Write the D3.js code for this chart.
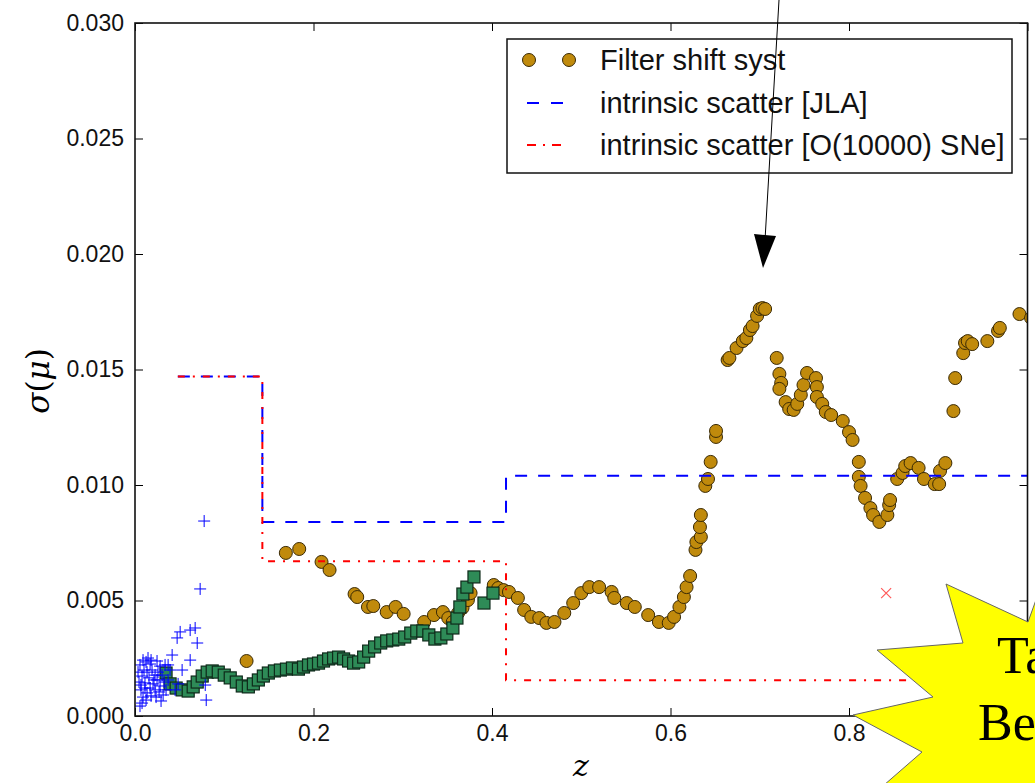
<!DOCTYPE html>
<html><head><meta charset="utf-8">
<script src="https://cdn.jsdelivr.net/npm/d3@7"></script>
<style>body{margin:0;background:#fff} svg{display:block}</style>
</head><body><svg id="c" width="1035" height="783"></svg>
<script>
// ---------------- data ----------------
const goldZ=[0.125,0.169,0.184,0.209,0.218,0.246,0.249,0.261,0.267,0.282,0.292,0.301,0.324,0.335,0.345,0.351,0.356,0.362,0.367,0.373,0.376,0.402,0.407,0.413,0.419,0.429,0.436,0.444,0.453,0.461,0.470,0.481,0.491,0.500,0.509,0.520,0.534,0.537,0.551,0.560,0.575,0.587,0.598,0.604,0.610,0.615,0.618,0.622,0.628,0.629,0.634,0.633,0.634,0.639,0.642,0.645,0.651,0.651,0.664,0.666,0.674,0.681,0.685,0.689,0.692,0.697,0.700,0.703,0.706,0.719,0.722,0.724,0.722,0.729,0.733,0.738,0.742,0.746,0.749,0.753,0.763,0.764,0.764,0.770,0.774,0.780,0.793,0.800,0.804,0.811,0.811,0.813,0.818,0.824,0.827,0.834,0.843,0.845,0.846,0.854,0.860,0.863,0.869,0.878,0.884,0.896,0.901,0.902,0.908,0.917,0.919,0.928,0.930,0.933,0.938,0.955,0.967,0.969,0.991,1.004];
const goldS=[0.00238,0.00706,0.00723,0.00667,0.00632,0.00528,0.00515,0.00472,0.00476,0.00450,0.00472,0.00442,0.00407,0.00437,0.00450,0.00424,0.00407,0.00446,0.00468,0.00502,0.00532,0.00567,0.00554,0.00545,0.00537,0.00511,0.00459,0.00429,0.00424,0.00403,0.00407,0.00446,0.00489,0.00532,0.00558,0.00558,0.00537,0.00511,0.00489,0.00472,0.00437,0.00407,0.00403,0.00429,0.00472,0.00515,0.00558,0.00606,0.00719,0.00753,0.00775,0.00818,0.00870,0.00996,0.01026,0.01100,0.01208,0.01234,0.01541,0.01550,0.01593,0.01623,0.01636,0.01671,0.01688,0.01732,0.01762,0.01766,0.01762,0.01550,0.01481,0.01442,0.01416,0.01359,0.01329,0.01325,0.01351,0.01390,0.01433,0.01485,0.01463,0.01424,0.01381,0.01351,0.01316,0.01303,0.01277,0.01229,0.01195,0.01100,0.01035,0.00996,0.00944,0.00900,0.00870,0.00840,0.00870,0.00913,0.00935,0.01026,0.01052,0.01082,0.01095,0.01074,0.01026,0.01004,0.01004,0.01061,0.01095,0.01320,0.01463,0.01571,0.01615,0.01623,0.01610,0.01623,0.01667,0.01680,0.01740,0.01723];

const greenZ=[0.0348,0.0393,0.0461,0.0528,0.0596,0.0652,0.0697,0.0753,0.0809,0.0865,0.0933,0.1000,0.1067,0.1135,0.1202,0.1270,0.1326,0.1382,0.1438,0.1494,0.1562,0.1629,0.1697,0.1764,0.1831,0.1888,0.1944,0.2000,0.2056,0.2112,0.2169,0.2225,0.2281,0.2337,0.2393,0.2449,0.2506,0.2562,0.2618,0.2685,0.2753,0.2820,0.2888,0.2955,0.3022,0.3090,0.3157,0.3225,0.3292,0.3360,0.3427,0.3494,0.3562,0.3607,0.3640,0.3674,0.3719,0.3798,0.3910,0.4011];
const greenS=[0.00186,0.00139,0.00121,0.00113,0.00108,0.00126,0.00147,0.00173,0.00190,0.00195,0.00190,0.00177,0.00165,0.00147,0.00130,0.00126,0.00139,0.00156,0.00173,0.00186,0.00195,0.00199,0.00203,0.00208,0.00203,0.00212,0.00221,0.00225,0.00229,0.00238,0.00247,0.00251,0.00255,0.00247,0.00238,0.00229,0.00234,0.00255,0.00281,0.00299,0.00316,0.00325,0.00329,0.00333,0.00342,0.00359,0.00368,0.00368,0.00351,0.00333,0.00338,0.00355,0.00381,0.00424,0.00472,0.00528,0.00558,0.00602,0.00489,0.00532];

const crossZ=[0.0056,0.0079,0.0090,0.0067,0.0112,0.0135,0.0045,0.0079,0.0101,0.0124,0.0146,0.0169,0.0191,0.0157,0.0202,0.0225,0.0180,0.0247,0.0258,0.0281,0.0303,0.0281,0.0326,0.0348,0.0315,0.0112,0.0135,0.0180,0.0225,0.0247,0.0056,0.0090,0.0034,0.0067,0.0169,0.0213,0.0236,0.0270,0.0292,0.0124,0.0371,0.0393,0.0337,0.0416,0.0371,0.0449,0.0483,0.0472,0.0506,0.0618,0.0674,0.0697,0.0618,0.0528,0.0787,0.0798,0.0775,0.0730];
const crossS=[0.00043,0.00056,0.00082,0.00113,0.00121,0.00100,0.00147,0.00173,0.00199,0.00234,0.00251,0.00225,0.00199,0.00165,0.00139,0.00113,0.00087,0.00156,0.00190,0.00216,0.00177,0.00130,0.00147,0.00113,0.00091,0.00143,0.00190,0.00242,0.00177,0.00238,0.00221,0.00242,0.00190,0.00134,0.00121,0.00156,0.00082,0.00104,0.00065,0.00069,0.00156,0.00199,0.00221,0.00264,0.00221,0.00113,0.00139,0.00338,0.00364,0.00372,0.00381,0.00316,0.00242,0.00199,0.00134,0.00069,0.00844,0.00550];

const stepEdges=[0.048,0.1427,0.4157,1.0];
const jlaVals=[0.0147,0.0084,0.0104];
const snVals=[0.0147,0.0067,0.00155];

const xMarkZ=[0.8416], xMarkS=[0.00532];

const xTicks=[0,0.2,0.4,0.6,0.8,1.0];
const xTickLabels=["0.0","0.2","0.4","0.6","0.8",""];
const yTicks=[0,0.005,0.010,0.015,0.020,0.025,0.030];
const yTickLabels=["0.000","0.005","0.010","0.015","0.020","0.025","0.030"];
const legendLabels=["Filter shift syst","intrinsic scatter [JLA]","intrinsic scatter [O(10000) SNe]"];
const starLines=["Ta","Be"];

// ---------------- drawing ----------------
const svg=d3.select('#c');
const X0=135,X1=1027.5,Y0=716,Y1=23;
const xs=d3.scaleLinear().domain([0,1]).range([X0,X1]);
const ys=d3.scaleLinear().domain([0,0.03]).range([Y0,Y1]);
const font='"Liberation Sans", Arial, sans-serif';

svg.append('defs').append('clipPath').attr('id','clip')
  .append('rect').attr('x',X0).attr('y',Y1).attr('width',X1-X0).attr('height',Y0-Y1);
const plot=svg.append('g').attr('clip-path','url(#clip)');

// gold circles
plot.append('g').selectAll('circle').data(d3.range(goldZ.length)).join('circle')
  .attr('cx',i=>xs(goldZ[i])).attr('cy',i=>ys(goldS[i])).attr('r',6.5)
  .attr('fill','#c08a0c').attr('stroke','#3a2a05').attr('stroke-width',1);

// green squares
const sq=12;
plot.append('g').selectAll('rect').data(d3.range(greenZ.length)).join('rect')
  .attr('x',i=>xs(greenZ[i])-sq/2).attr('y',i=>ys(greenS[i])-sq/2).attr('width',sq).attr('height',sq)
  .attr('fill','#2e8b57').attr('stroke','#0e2a1a').attr('stroke-width',1.2);

// blue crosses
plot.append('g').selectAll('path').data(d3.range(crossZ.length)).join('path')
  .attr('d',i=>{const cx=xs(crossZ[i]),cy=ys(crossS[i]);return `M${cx-6},${cy}H${cx+6}M${cx},${cy-6}V${cy+6}`;})
  .attr('stroke','#0000ff').attr('stroke-width',1).attr('fill','none');

// step lines
function stepPts(edges,vals){
  const p=[];
  vals.forEach((v,i)=>{p.push([edges[i],v]);p.push([edges[i+1],v]);});
  return p;
}
const lineGen=d3.line().x(d=>xs(d[0])).y(d=>ys(d[1]));
plot.append('path').datum(stepPts(stepEdges,jlaVals)).attr('d',lineGen)
  .attr('fill','none').attr('stroke','#0000ff').attr('stroke-width',2).attr('stroke-dasharray','12,11');
plot.append('path').datum(stepPts(stepEdges,snVals)).attr('d',lineGen)
  .attr('fill','none').attr('stroke','#ff0000').attr('stroke-width',2).attr('stroke-dasharray','7,8,2,8');

// red x
plot.append('g').selectAll('path').data(d3.range(xMarkZ.length)).join('path')
  .attr('d',i=>{const cx=xs(xMarkZ[i]),cy=ys(xMarkS[i]);return `M${cx-5},${cy-5}L${cx+5},${cy+5}M${cx-5},${cy+5}L${cx+5},${cy-5}`;})
  .attr('stroke','#ff5a5a').attr('stroke-width',1.2).attr('fill','none');

// axes
const axG=svg.append('g').attr('font-family',font);
axG.append('g').attr('transform',`translate(0,${Y0})`)
  .call(d3.axisBottom(xs).tickValues(xTicks).tickFormat((d,i)=>xTickLabels[i]).tickSize(-8).tickPadding(9));
axG.append('g').attr('transform',`translate(${X0},0)`)
  .call(d3.axisLeft(ys).tickValues(yTicks).tickFormat((d,i)=>yTickLabels[i]).tickSize(-8).tickPadding(11));
axG.append('g').attr('transform',`translate(0,${Y1})`)
  .call(d3.axisTop(xs).tickValues(xTicks).tickFormat('').tickSize(-8));
axG.append('g').attr('transform',`translate(${X1},0)`)
  .call(d3.axisRight(ys).tickValues(yTicks).tickFormat('').tickSize(-8));
axG.selectAll('.domain').remove();
axG.selectAll('.tick text').filter(function(){return this.textContent==='';}).remove();
axG.selectAll('.tick line').attr('stroke','#000').attr('stroke-width',1);
axG.selectAll('.tick text').attr('font-size',23).attr('fill','#111').attr('font-family',font);
svg.append('rect').attr('x',X0).attr('y',Y1).attr('width',X1-X0).attr('height',Y0-Y1)
  .attr('fill','none').attr('stroke','#111').attr('stroke-width',1.6);

// axis labels
svg.append('text').attr('x',581).attr('y',776).attr('text-anchor','middle')
  .attr('font-family','"DejaVu Serif", serif').attr('font-style','italic').attr('font-size',30).text('z');
const yl=svg.append('text').attr('transform','translate(49,381) rotate(-90)').attr('text-anchor','middle')
  .attr('font-family','"DejaVu Serif", serif').attr('font-size',31);
yl.append('tspan').attr('font-style','italic').text('σ');
yl.append('tspan').text('(');
yl.append('tspan').attr('font-style','italic').text('μ');
yl.append('tspan').text(')');

// legend
const lg=svg.append('g').attr('font-family',font);
lg.append('rect').attr('x',507).attr('y',39).attr('width',505).attr('height',134)
  .attr('fill','#fff').attr('stroke','#111').attr('stroke-width',1.5);
const rowY=[60,103,145];
lg.selectAll('text').data(legendLabels).join('text')
  .attr('x',600).attr('y',(d,i)=>rowY[i]+10).attr('font-size',29).attr('fill','#111').text(d=>d);
[529,569].forEach(cx=>lg.append('circle').attr('cx',cx).attr('cy',rowY[0]).attr('r',6.5)
  .attr('fill','#c08a0c').attr('stroke','#3a2a05').attr('stroke-width',1));
lg.append('line').attr('x1',527).attr('x2',567).attr('y1',rowY[1]).attr('y2',rowY[1])
  .attr('stroke','#0000ff').attr('stroke-width',2).attr('stroke-dasharray','12,12');
lg.append('line').attr('x1',527).attr('x2',567).attr('y1',rowY[2]).attr('y2',rowY[2])
  .attr('stroke','#ff0000').attr('stroke-width',2).attr('stroke-dasharray','9,7,2,7');

// arrow
svg.append('line').attr('x1',779).attr('y1',0).attr('x2',765).attr('y2',240)
  .attr('stroke','#000').attr('stroke-width',1);
svg.append('polygon').attr('points','754,234 776,236 763,268').attr('fill','#000');

// star
const starPts=[[946,584],[963,643],[877,650],[933,697],[853,715],[922,752],[876,792],[1100,792],[1100,590],[1041,586],[1028,622]];
svg.append('polygon').attr('points',starPts.map(p=>p.join(',')).join(' '))
  .attr('fill','#ffff00').attr('stroke','#666').attr('stroke-width',1);
svg.append('g').selectAll('text').data(starLines).join('text')
  .attr('x',(d,i)=>[997,978][i]).attr('y',(d,i)=>[673,740][i])
  .attr('font-family','"Liberation Serif", "DejaVu Serif", serif').attr('font-size',52).attr('fill','#000').text(d=>d);
</script></body></html>
